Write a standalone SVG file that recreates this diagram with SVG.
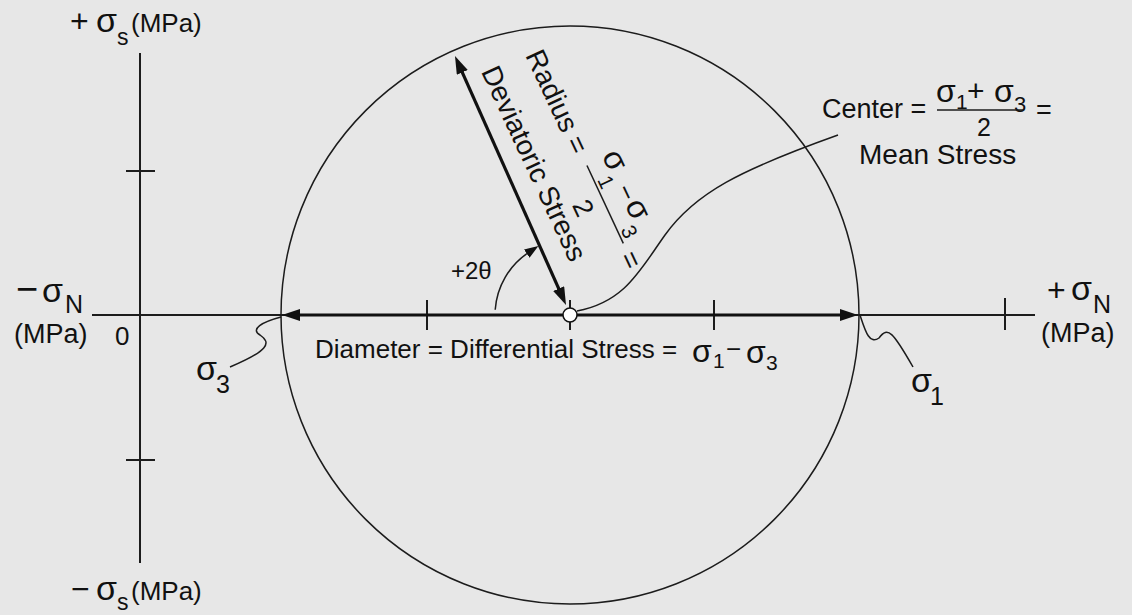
<svg xmlns="http://www.w3.org/2000/svg" width="1132" height="615" viewBox="0 0 1132 615">
<style>
.t{font-family:"Liberation Sans",Arial,Helvetica,sans-serif;fill:#111;}
.ax{stroke:#1c1c1c;stroke-width:2;fill:none;}
.thin{stroke:#1c1c1c;stroke-width:1.5;fill:none;}
.thick{stroke:#111;stroke-width:3.2;fill:none;}
</style>
<defs>
<marker id="ah" markerUnits="userSpaceOnUse" markerWidth="20" markerHeight="14" refX="2" refY="6" orient="auto-start-reverse">
<path d="M0,0 L18,6 L0,12 z" fill="#111"/>
</marker>
<marker id="ah2" markerUnits="userSpaceOnUse" markerWidth="16" markerHeight="12" refX="2" refY="5" orient="auto">
<path d="M0,0 L14,5 L0,10 z" fill="#111"/>
</marker>
</defs>
<rect width="1132" height="615" fill="#e7e7e7"/>
<g id="axes">
<line class="ax" x1="140" y1="53" x2="140" y2="563"/>
<line class="ax" x1="92" y1="315" x2="1035" y2="315"/>
<line class="ax" x1="126" y1="171" x2="155" y2="171"/>
<line class="ax" x1="126" y1="460" x2="155" y2="460"/>
<line class="ax" x1="427" y1="300" x2="427" y2="330"/>
<line class="ax" x1="570" y1="300" x2="570" y2="330"/>
<line class="ax" x1="714" y1="300" x2="714" y2="330"/>
<line class="ax" x1="1005" y1="298" x2="1005" y2="330"/>
</g>
<g id="mohr-circle">
<circle class="thin" cx="570" cy="315" r="289"/>
</g>
<g id="connectors">
<line class="thick" x1="298" y1="315" x2="842" y2="315" marker-start="url(#ah)" marker-end="url(#ah)"/>
<line class="thick" x1="461.5" y1="70.6" x2="559.5" y2="290.4" marker-start="url(#ah)" marker-end="url(#ah)"/>
<path class="thin" d="M495.2,309.8 A75,75 0 0,1 528.4,252.6" marker-end="url(#ah2)"/>
<path class="thin" d="M577,311 C625,302 640,270 665,235 C695,193 740,170 838,135"/>
<path class="thin" d="M281,317 C262,322 250,329 260,335 C272,343 268,351 230,367"/>
<path class="thin" d="M860,315 C865,330 869,345 879,338 C888,326 893,332 913,367"/>
</g>
<g id="center-point">
<circle cx="570" cy="315" r="7" fill="#fff" stroke="#111" stroke-width="1.5"/>
</g>
<g id="label-plus-shear">
<text class="t" y="32"><tspan x="70" font-size="32">+</tspan><tspan x="96" font-size="34">σ</tspan><tspan x="117" y="45" font-size="23">s</tspan><tspan x="131" y="32" font-size="26">(MPa)</tspan></text>
</g>
<g id="label-minus-shear">
<text class="t" y="600"><tspan x="71" font-size="32">−</tspan><tspan x="96" font-size="34">σ</tspan><tspan x="117" y="610" font-size="23">s</tspan><tspan x="131" y="600" font-size="26">(MPa)</tspan></text>
</g>
<g id="label-minus-normal">
<text class="t" y="302"><tspan x="16" font-size="38">−</tspan><tspan x="42" font-size="34">σ</tspan><tspan x="65" y="313" font-size="25">N</tspan></text>
<text class="t" x="14" y="343" font-size="27">(MPa)</text>
<text class="t" x="115" y="345" font-size="26">0</text>
</g>
<g id="label-plus-normal">
<text class="t" y="301"><tspan x="1047" font-size="32">+</tspan><tspan x="1071" y="300" font-size="34">σ</tspan><tspan x="1093" y="313" font-size="25">N</tspan></text>
<text class="t" x="1041" y="342" font-size="27">(MPa)</text>
</g>
<g id="label-sigma3">
<text class="t" y="380"><tspan x="196" font-size="34">σ</tspan><tspan x="216" y="393" font-size="25">3</tspan></text>
</g>
<g id="label-sigma1">
<text class="t" y="392"><tspan x="911" font-size="34">σ</tspan><tspan x="930" y="405" font-size="25">1</tspan></text>
</g>
<g id="label-diameter">
<text class="t" y="358" font-size="26"><tspan x="315">Diameter = Differential Stress =</tspan><tspan x="692" y="362" font-size="32">σ</tspan><tspan x="713" y="368" font-size="21">1</tspan><tspan x="726" y="358">−</tspan><tspan x="746" y="363" font-size="32">σ</tspan><tspan x="766" y="370" font-size="21">3</tspan></text>
</g>
<g id="label-center">
<text class="t" x="822" y="118" font-size="27">Center =</text>
<text class="t" y="102"><tspan x="936" font-size="32">σ</tspan><tspan x="956" y="109" font-size="21">1</tspan><tspan x="967" y="101" font-size="30">+</tspan><tspan x="994" y="102" font-size="32">σ</tspan><tspan x="1014" y="112" font-size="22">3</tspan></text>
<line class="thin" x1="937" y1="110" x2="1023" y2="110"/>
<text class="t" x="977" y="136" font-size="25">2</text>
<text class="t" x="1036" y="119" font-size="27">=</text>
<text class="t" x="859" y="164" font-size="28">Mean Stress</text>
</g>
<g id="label-radius" transform="translate(525.1,55.3) rotate(65)">
<text class="t" x="0" y="0" font-size="28">Radius =</text>
<line class="thin" x1="126" y1="-9.5" x2="212" y2="-9.5"/>
<text class="t" text-anchor="middle" font-size="32" x="133" y="-27">σ</text>
<text class="t" text-anchor="middle" font-size="21" x="149" y="-12.5">1</text>
<text class="t" text-anchor="middle" font-size="26" x="167" y="-25">−</text>
<text class="t" text-anchor="middle" font-size="32" x="187" y="-27">σ</text>
<text class="t" text-anchor="middle" font-size="21" x="204" y="-12.5">3</text>
<text class="t" text-anchor="middle" font-size="27" x="163" y="21">2</text>
<text class="t" x="222" y="0" font-size="28">=</text>
<text class="t" x="-4" y="47" font-size="28">Deviatoric Stress</text>
</g>
<g id="label-angle">
<text class="t" x="451" y="279" font-size="24">+2θ</text>
</g>
</svg>
